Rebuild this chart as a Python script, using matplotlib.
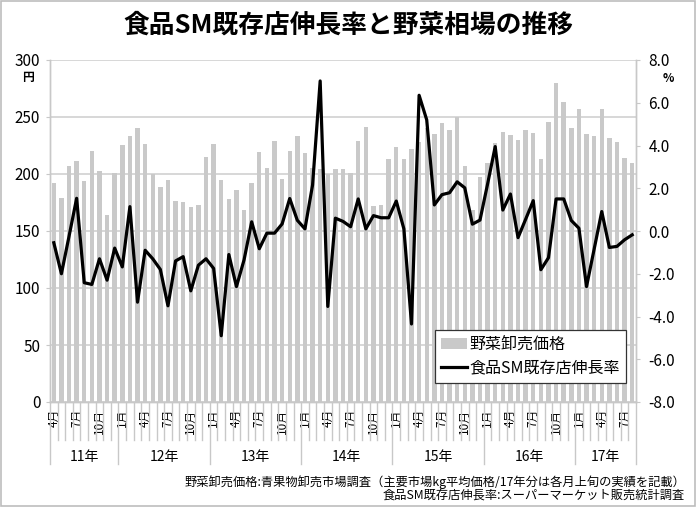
import numpy as np
import pandas as pd
import matplotlib
matplotlib.use("Agg")
import matplotlib.pyplot as plt
import matplotlib.transforms as mtransforms
from matplotlib.patches import Rectangle

plt.rcParams['font.family'] = ['Noto Sans CJK JP', 'DejaVu Sans']

# monthly data, 2011/04 - 2017/08
periods = pd.period_range('2011-04', periods=77, freq='M')

veg_price = [192, 179, 207, 211, 194, 220, 203, 164, 201,
             225, 233, 240, 226, 200, 189, 195, 176, 175, 171, 173, 215,
             226, 195, 178, 186, 168, 192, 219, 205, 229, 196, 220, 233,
             218, 205, 204, 200, 204, 204, 201, 229, 241, 172, 173, 213,
             224, 213, 222, 228, 240, 235, 245, 239, 250, 207, 168, 197, 210,
             227, 237, 234, 230, 239, 236, 213, 246, 280, 263, 240, 257, 235, 233,
             257, 232, 228, 214, 210]

sm_growth = [-0.55, -2.0, -0.25, 1.53, -2.42, -2.5, -1.3, -2.3, -0.8,
             -1.68, 1.14, -3.33, -0.9, -1.3, -1.8, -3.5, -1.4, -1.2, -2.8, -1.6, -1.3,
             -1.75, -4.9, -1.1, -2.6, -1.35, 0.43, -0.83, -0.1, -0.1, 0.33, 1.52, 0.5,
             0.1, 2.15, 7.02, -3.53, 0.6, 0.45, 0.2, 1.5, 0.1, 0.72, 0.62, 0.62,
             1.4, 0.1, -4.35, 6.35, 5.2, 1.22, 1.7, 1.79, 2.3, 2.02, 0.32, 0.51, 2.2,
             3.95, 0.98, 1.73, -0.31, 0.55, 1.42, -1.81, -1.25, 1.5, 1.5, 0.49, 0.13,
             -2.6, -0.85, 0.91, -0.77, -0.72, -0.41, -0.18]

months = [p.month for p in periods]
years = [p.year % 100 for p in periods]
x = np.arange(len(periods))

fig = plt.figure(figsize=(6.96, 5.07), dpi=100)
ax = fig.add_axes([50 / 696, 105 / 507, 586 / 696, 342 / 507])
ax2 = ax.twinx()

ax.bar(x, veg_price, width=0.58, color='#c9c9c9', zorder=2, label='野菜卸売価格')
ax2.plot(x, sm_growth, color='black', lw=2.3, zorder=3, label='食品SM既存店伸長率')

ax.set_xlim(-0.5, len(x) - 0.5)
ax.set_ylim(0, 300)
ax.set_yticks(range(0, 301, 50))
ax2.set_ylim(-8, 8)
ax2.set_yticks(np.arange(-8, 8.1, 2))
ax2.set_yticklabels([f'{v:.1f}' for v in np.arange(-8, 8.1, 2)])

ax.grid(axis='y', color='#d4d4d4', lw=1.3, zorder=0)
ax.set_axisbelow(True)
for a in (ax, ax2):
    a.spines['top'].set_visible(False)
    for s in ('left', 'right', 'bottom'):
        a.spines[s].set_color('#c8c8c8')
        a.spines[s].set_linewidth(1.0)
ax.tick_params(axis='y', labelsize=11, length=3, color='#c8c8c8', pad=4)
ax2.tick_params(axis='y', labelsize=11, length=3, color='#c8c8c8', pad=6)

# month tick labels every quarter
qpos = [i for i, m in enumerate(months) if m in (1, 4, 7, 10)]
ax.set_xticks(qpos)
ax.set_xticklabels([f'{months[i]}月' for i in qpos], rotation=90, fontsize=8.5)
ax.tick_params(axis='x', length=0, pad=5)

# category separators and year labels
trans = mtransforms.blended_transform_factory(ax.transData, ax.transAxes)
for i in range(len(x) + 1):
    bx = i - 0.5
    if i == 0 or i == len(x) or months[i] == 1:
        ax.plot([bx, bx], [0, -0.18], transform=trans, color='#c8c8c8', lw=1.0, clip_on=False)
    else:
        ax.plot([bx, bx], [0, -0.11], transform=trans, color='#c8c8c8', lw=1.0, clip_on=False)

for yv in sorted(set(years)):
    idx = [i for i, v in enumerate(years) if v == yv]
    ax.text((idx[0] + idx[-1]) / 2, -0.16, f'{yv}年', transform=trans,
            ha='center', va='center', fontsize=10)

fig.text(28 / 696, 1 - 77 / 507, '円', ha='center', va='center', fontsize=8.5, fontweight='bold')
fig.text(668 / 696, 1 - 78 / 507, '%', ha='center', va='center', fontsize=8.5, fontweight='bold')

fig.text(0.5, 1 - 25 / 507, '食品SM既存店伸長率と野菜相場の推移', ha='center', va='center',
         fontsize=18.5, fontweight='bold')

h1, l1 = ax.get_legend_handles_labels()
h2, l2 = ax2.get_legend_handles_labels()
leg = ax2.legend(h1 + h2, l1 + l2, loc='lower right', bbox_to_anchor=(0.983, 0.056),
                 borderaxespad=0, fontsize=11.5, frameon=True, fancybox=False, framealpha=1,
                 edgecolor='#333333', handlelength=1.6, borderpad=0.4,
                 labelspacing=0.4, handletextpad=0.15)
leg.get_frame().set_linewidth(0.9)

fig.text(685 / 696, 1 - 482 / 507,
         '野菜卸売価格:青果物卸売市場調査（主要市場kg平均価格/17年分は各月上旬の実績を記載）',
         ha='right', va='center', fontsize=8.8)
fig.text(685 / 696, 1 - 496 / 507,
         '食品SM既存店伸長率:スーパーマーケット販売統計調査',
         ha='right', va='center', fontsize=8.8)

fig.patches.append(Rectangle((0.002, 0.002), 0.996, 0.996, transform=fig.transFigure,
                             fill=False, edgecolor='#bdbdbd', lw=1.2))

fig.savefig('out.png', dpi=100)
